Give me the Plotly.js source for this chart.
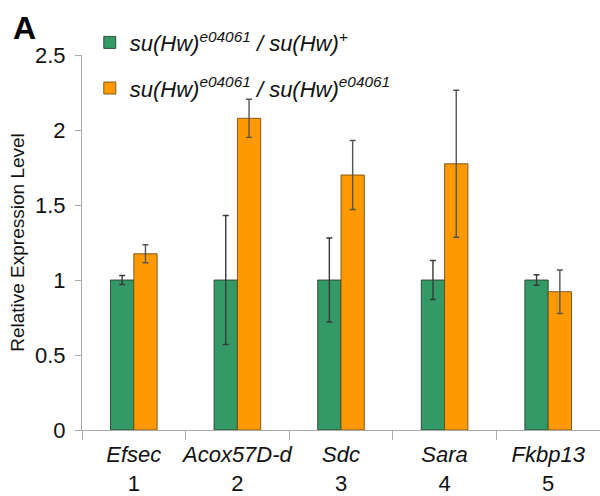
<!DOCTYPE html>
<html>
<head>
<meta charset="utf-8">
<script src="https://cdn.plot.ly/plotly-3.0.1.min.js"></script>
<style>html,body{margin:0;padding:0;background:#fff;}#chart{width:600px;height:496px;}</style>
</head>
<body>
<div id="chart"></div>
<script>
const genes = ["Efsec", "Acox57D-d", "Sdc", "Sara", "Fkbp13"];
const numbers = ["1", "2", "3", "4", "5"];
const hetValues = [1.0, 1.0, 1.0, 1.0, 1.0];
const hetErrors = [0.03, 0.43, 0.28, 0.13, 0.035];
const homValues = [1.175, 2.078, 1.70, 1.775, 0.922];
const homErrors = [0.06, 0.127, 0.23, 0.49, 0.145];
const seriesNames = [
  "<i>su(Hw)<sup>e04061</sup> / su(Hw)<sup>+</sup></i>",
  "<i>su(Hw)<sup>e04061</sup> / su(Hw)<sup>e04061</sup></i>"
];
const yTickVals = [0, 0.5, 1, 1.5, 2, 2.5];
const yTickText = ["0", "0.5", "1", "1.5", "2", "2.5"];

const cats = genes.map((g, i) => "<i>" + g + "</i><br>" + numbers[i]);
const FONT = "Liberation Sans, Arial, sans-serif";

const traces = [
  {
    type: "bar", x: cats, y: hetValues, name: seriesNames[0], legendgroup: "a",
    marker: {color: "#339966", line: {color: "rgba(40,60,40,0.85)", width: 1}},
    error_y: {type: "data", array: hetErrors, visible: true, color: "#3a3a3a", thickness: 1.4, width: 3}
  },
  {
    type: "bar", x: cats, y: homValues, name: seriesNames[1], legendgroup: "b",
    marker: {color: "#FF9900", line: {color: "rgba(110,70,20,0.85)", width: 1}},
    error_y: {type: "data", array: homErrors, visible: true, color: "#555555", thickness: 1.4, width: 3}
  }
];

const layout = {
  width: 600, height: 496,
  margin: {l: 82, r: 0, t: 55, b: 65.5},
  paper_bgcolor: "#fff", plot_bgcolor: "#fff",
  font: {family: FONT, color: "#111"},
  barmode: "group", bargap: 0.55, bargroupgap: 0,
  showlegend: true,
  legend: {
    x: 0.015, y: 1.089, xanchor: "left", yanchor: "top",
    font: {family: FONT, size: 22, color: "#111"},
    tracegroupgap: 14, traceorder: "grouped",
    bgcolor: "rgba(0,0,0,0)"
  },
  xaxis: {
    type: "category",
    tickson: "boundaries",
    tickangle: 0,
    ticks: "outside", ticklen: 9, tickcolor: "#aaa", tickwidth: 1,
    showline: true, linecolor: "#aaa", linewidth: 1,
    showgrid: false, zeroline: false,
    tickfont: {family: FONT, size: 22, color: "#111"},
    ticklabelstandoff: 5,
    fixedrange: true
  },
  yaxis: {
    range: [0, 2.5],
    tickvals: yTickVals, ticktext: yTickText,
    ticks: "outside", ticklen: 6, tickcolor: "#aaa", tickwidth: 1,
    showline: true, linecolor: "#aaa", linewidth: 1,
    showgrid: false, zeroline: false,
    tickfont: {family: FONT, size: 22, color: "#111"},
    ticklabelstandoff: 5,
    title: {text: "Relative Expression Level", font: {family: FONT, size: 19, color: "#111"}, standoff: 5}
  },
  annotations: [
    {text: "<b>A</b>", xref: "paper", yref: "paper", x: -0.137, y: 1.072, xanchor: "left", yanchor: "middle",
     showarrow: false, font: {family: FONT, size: 32, color: "#000"}}
  ]
};

Plotly.newPlot("chart", traces, layout, {staticPlot: true, displayModeBar: false});
</script>
</body>
</html>
